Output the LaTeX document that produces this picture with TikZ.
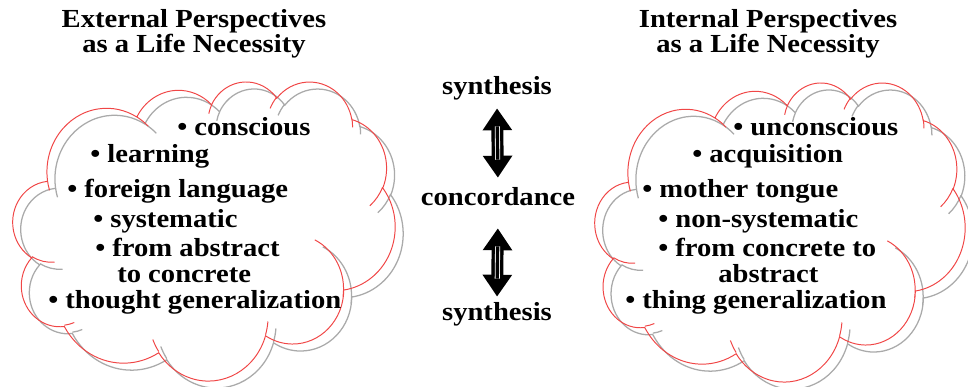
\documentclass[tikz,border=0pt]{standalone}
\usepackage{fontspec}
\setmainfont{Liberation Serif}[FakeStretch=1.1]
\usetikzlibrary{arrows.meta}

\definecolor{puffred}{RGB}{240,70,70}
\definecolor{puffgray}{RGB}{170,170,170}

% one puff: x radius, y radius, start angle, sweep (angles as seen, y down)
\newcommand\puff[4]{arc[x radius=#1, y radius=#2,
  start angle={atan2(#1*sin(#3),#2*cos(#3))},
  delta angle={Mod(atan2(#1*sin(#3+#4),#2*cos(#3+#4))-atan2(#1*sin(#3),#2*cos(#3)),360)}]}

% the cloud outline in a 432 x 432 frame
\newcommand\cloudline{(39,143.7) \puff{67.53}{91.90}{-190.4875}{123.7805}
  \puff{53.33}{72.67}{-144.1024}{89.9452}
  \puff{43.65}{59.45}{-145.8079}{99.7230}
  \puff{48.57}{65.95}{-130.9861}{117.2417}
  \puff{53.33}{72.73}{-78.7089}{109.0269}
  \puff{67.75}{92.20}{-46.2673}{130.2690}
  \puff{57.85}{78.67}{0.6250}{114.0333}
  \puff{67.52}{92.15}{22.4516}{115.1726}
  \puff{77.20}{105.43}{66.2426}{75.7110}
  \puff{43.60}{59.18}{-274.9421}{146.7356}
  \puff{43.45}{59.45}{-246.8285}{152.5189}
  % inner ends of the puffs
  (46.93,261.77) \puff{43.45}{59.45}{86.7420}{26.4295}
  (69.28,348.99) \puff{43.60}{59.18}{73.6105}{11.4475}
  (164.78,390.90) \puff{67.52}{92.15}{137.6242}{14.0811}
  (288.27,347.51) \puff{67.52}{92.15}{6.4533}{15.9984}
  (341.29,229.54) \puff{57.85}{78.67}{-70.2924}{81.5787}
  (417.98,153.54) \puff{53.33}{72.73}{30.3180}{27.7515}
  (383.24,54.26) \puff{48.57}{65.95}{-13.7443}{14.8589}
  (290.78,39.52) \puff{48.57}{65.95}{-149.1815}{18.1954}
  (221.41,47.20) \puff{43.65}{59.45}{-163.4943}{17.6864}
  (140.00,51.92) \puff{67.53}{91.90}{-66.7070}{12.3194}
  (41.27,157.89) \puff{67.53}{91.90}{157.6544}{11.8582}}

\tikzset{
  redline/.style={draw=puffred, line width=0.7pt},
  grayline/.style={draw=puffgray, line width=0.9pt},
  item/.style={anchor=base west, inner sep=0pt},
  title/.style={align=center, anchor=north, inner sep=0pt},
  mid/.style={anchor=base, inner sep=0pt, text height=12.8pt, text depth=4.3pt},
  bothway/.style={line width=8.5pt, {Triangle[width=20pt,length=15.6pt]}-{Triangle[width=20pt,length=15.6pt]}},
  stripe/.style={draw=white, line width=0.6pt, double=black, double distance=2.4pt}
}

\begin{document}
\begin{tikzpicture}[x=0.025cm, y=-0.025cm, font=\bfseries\fontsize{18.5}{17.8}\selectfont]
\useasboundingbox (0,0) rectangle (968,387);

% clouds, grey shadow first
\begin{scope}[shift={(21,88)}, xscale=0.8843, yscale=0.6921]
  \draw[grayline] \cloudline;
\end{scope}
\begin{scope}[shift={(13,81)}, xscale=0.8843, yscale=0.6921]
  \draw[redline] \cloudline;
\end{scope}
\begin{scope}[shift={(603,89)}, xscale=0.8565, yscale=0.6921]
  \draw[grayline] \cloudline;
\end{scope}
\begin{scope}[shift={(595,82)}, xscale=0.8565, yscale=0.6921]
  \draw[redline] \cloudline;
\end{scope}

% titles
\node[title] (exttitle) at (194,9) {External Perspectives\\as a Life Necessity};
\node[title] (inttitle) at (768,9) {Internal Perspectives\\as a Life Necessity};

% external side
\node[item] (ext1) at (177,135) {• conscious};
\node[item] (ext2) at (90,162) {• learning};
\node[item] (ext3) at (67,197) {• foreign language};
\node[item] (ext4) at (93,227) {• systematic};
\node[item] (ext5) at (95,256) {• from abstract};
\node[item] (ext6) at (117,282) {to concrete};
\node[item] (ext7) at (48,308) {• thought generalization};

% internal side
\node[item] (int1) at (733,135) {• unconscious};
\node[item] (int2) at (692,162) {• acquisition};
\node[item] (int3) at (642,197) {• mother tongue};
\node[item] (int4) at (658,227) {• non-systematic};
\node[item] (int5) at (658,256) {• from concrete to};
\node[item] (int6) at (718,282) {abstract};
\node[item] (int7) at (625,308) {• thing generalization};

% middle
\node[mid] (syntop) at (497,95) {synthesis};
\node[mid] (conc) at (498,205) {concordance};
\node[mid] (synbot) at (497,320) {synthesis};

\draw[bothway, shorten <=5pt, shorten >=6.4pt] (syntop.south) -- (conc.north);
\draw[stripe, shorten <=17.8pt, shorten >=19.2pt] (syntop.south) -- (conc.north);
\draw[bothway, shorten <=12.1pt, shorten >=3.6pt] (conc.south) -- (synbot.north);
\draw[stripe, shorten <=24.9pt, shorten >=16.4pt] (conc.south) -- (synbot.north);
\end{tikzpicture}
\end{document}
